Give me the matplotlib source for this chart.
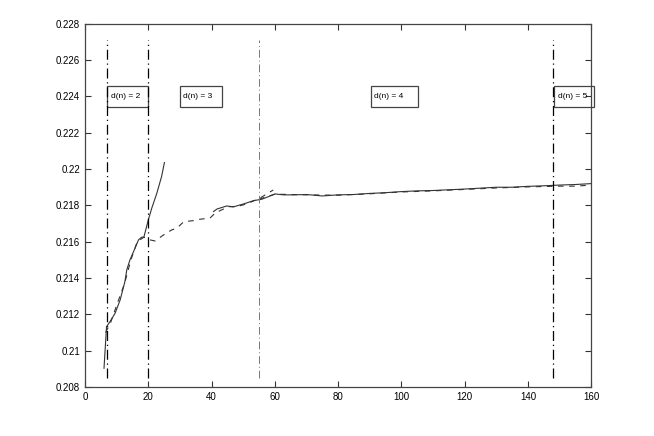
import matplotlib.pyplot as plt
from matplotlib.patches import Rectangle
from matplotlib.ticker import FuncFormatter

# solid curve, first piece (rises fast)
x_solid1 = [6.0, 6.8, 7.9, 9.5, 11.1, 12.6, 13.2, 14.2, 15.8, 16.9, 17.9, 18.6, 20.0, 21.1, 22.7, 24.2, 25.1]
y_solid1 = [0.20903, 0.21132, 0.21160, 0.21206, 0.21279, 0.21380, 0.21445, 0.21500, 0.21564, 0.21610,
            0.21625, 0.21625, 0.21720, 0.21785, 0.21867, 0.21959, 0.22036]

# solid curve, second piece (flat part)
x_solid2 = [40.6, 41.7, 44.8, 46.9, 50.1, 53.2, 55.9, 60.1, 62.7, 65.9, 70, 75, 80, 85, 90, 95, 100,
            105, 110, 115, 120, 125, 130, 135, 140, 145, 150, 155, 160]
y_solid2 = [0.21766, 0.21780, 0.21797, 0.21792, 0.21808, 0.21826, 0.21834, 0.21863, 0.21858, 0.21858,
            0.21860, 0.21852, 0.21858, 0.21860, 0.21866, 0.21870, 0.21876, 0.21880, 0.21882, 0.21886,
            0.21890, 0.21895, 0.21900, 0.21900, 0.21905, 0.21908, 0.21912, 0.21915, 0.21920]

# dashed curve, first piece
x_dash1 = [6.5, 8, 10, 12.5, 14.5, 16.5, 18.6, 20.6, 22.1, 24.8, 27.4, 29.0, 31.2, 34.2, 36.4, 39.5,
           41.1, 42.7, 45.3, 47.9, 51.1, 55.3, 59.5]
y_dash1 = [0.21100, 0.21150, 0.21250, 0.21370, 0.21500, 0.21600, 0.21625, 0.21610, 0.21604, 0.21637,
           0.21665, 0.21674, 0.21710, 0.21716, 0.21724, 0.21730, 0.21757, 0.21771, 0.21793, 0.21793,
           0.21808, 0.21840, 0.21885]

# dashed curve, second piece
x_dash2 = [55, 60, 70, 80, 90, 100, 110, 120, 130, 140, 145, 150, 155, 160]
y_dash2 = [0.21834, 0.21862, 0.21858, 0.21856, 0.21864, 0.21874, 0.21880, 0.21888, 0.21896, 0.21902,
           0.21904, 0.21906, 0.21906, 0.21912]

vlines_x = [7, 20, 55, 148]
region_labels = ["d(n) = 2", "d(n) = 3", "d(n) = 4", "d(n) = 5"]
label_box_x = [7, 30, 90.3, 148.3]
label_box_w = [13, 13.3, 14.9, 12.7]

fig = plt.figure(figsize=(6.54, 4.36), dpi=100)
ax = fig.add_axes([0.130, 0.1124, 0.774, 0.833])

ax.plot(x_solid1, y_solid1, color="#333333", lw=0.8)
ax.plot(x_solid2, y_solid2, color="#333333", lw=0.8)
ax.plot(x_dash1, y_dash1, color="#333333", lw=0.8, ls=(0, (5, 5)))
ax.plot(x_dash2, y_dash2, color="#333333", lw=0.8, ls=(0, (5, 5)))

for lab, bx, bw in zip(region_labels, label_box_x, label_box_w):
    ax.add_patch(Rectangle((bx, 0.22340), bw, 0.00120, fill=False, ec="#444444", lw=0.9, clip_on=False))
    ax.text(bx + 1.1, 0.22400, lab, fontsize=6, va="center", ha="left", family="Liberation Sans")

for xv in vlines_x:
    if xv == 55:
        ax.vlines(xv, 0.2085, 0.2271, color="#777777", lw=0.7, ls=(0, (8, 3, 1, 3)))
    else:
        ax.vlines(xv, 0.2085, 0.2271, color="black", lw=0.9, ls=(0, (8, 3, 1, 3)))

ax.set_xlim(0, 160)
ax.set_ylim(0.208, 0.228)
ax.set_xticks(range(0, 161, 20))
ax.set_yticks([0.208 + 0.002 * i for i in range(11)])
ax.yaxis.set_major_formatter(FuncFormatter(lambda v, p: "%g" % round(v, 3)))
ax.tick_params(direction="in", length=4, labelsize=7, top=True, right=True, width=0.8, colors="#333333")
for lbl in ax.get_xticklabels() + ax.get_yticklabels():
    lbl.set_family("Liberation Sans")
    lbl.set_color("black")
for sp in ax.spines.values():
    sp.set_color("#444444")
    sp.set_linewidth(0.9)

fig.savefig("out.png", dpi=100)
